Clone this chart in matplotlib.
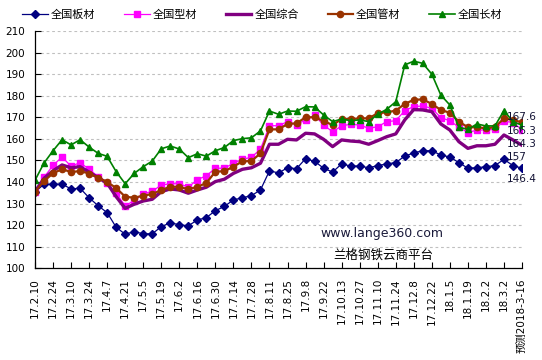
import numpy as np
import matplotlib
matplotlib.use("Agg")
import matplotlib.pyplot as plt

plt.rcParams['font.family'] = ['DejaVu Sans', 'Noto Sans CJK SC']

# 55 weekly points, a label every second week
tick_labels = ['17.2.10', '17.2.24', '17.3.10', '17.3.24', '17.4.7', '17.4.21',
               '17.5.5', '17.5.19', '17.6.2', '17.6.16', '17.6.30', '17.7.14',
               '17.7.28', '17.8.11', '17.8.25', '17.9.8', '17.9.22', '17.10.13',
               '17.10.27', '17.11.10', '17.11.24', '17.12.8', '17.12.22', '18.1.5',
               '18.1.19', '18.2.2', '18.3.2', '预测2018-3-16']

banc = [135.5, 138.9, 139, 139, 136.8, 137.1, 132.7, 129, 125.8, 119,
        115.8, 117, 116, 116, 119.3, 121.1, 120.2, 119.7, 122.4, 123.5,
        126.7, 128.7, 131.7, 132.7, 133.7, 136.3, 145.2, 144.2, 146.6, 146.2,
        150.8, 149.6, 146.4, 144.6, 148.4, 147.4, 147.4, 146.6, 147.6, 148.4,
        149, 152, 153.5, 154.5, 154.5, 152.5, 151.6, 149, 146.4, 146.6,
        147.1, 147.6, 150.5, 147.6, 146.4]
xingc = [135.5, 142.2, 147.7, 151.6, 147.3, 149, 145.9, 142.5, 139.7, 134.8,
         129, 131.4, 134.4, 135.7, 138.6, 139.2, 139.2, 137.6, 141.1, 142.9,
         146.4, 146.4, 148.7, 150.5, 151.5, 155.2, 166.1, 166.1, 168, 166.6,
         168.8, 170.9, 166.4, 163.3, 166, 166.8, 166.4, 164.9, 165.6, 168,
         168.4, 173.1, 175, 175.2, 174.2, 169.8, 168.4, 165.4, 162.9, 164.1,
         164.1, 164.4, 168.3, 167.5, 164.3]
zonghe = [135.5, 141.7, 145.2, 147.9, 146.6, 147.1, 144.6, 142, 139.5, 133.2,
          127.8, 129.7, 131.2, 132, 135.5, 136.8, 136.3, 134.8, 136.3, 137.6,
          140.2, 141.3, 144, 145.9, 146.6, 148.7, 157.5, 157.5, 159.8, 159.5,
          162.6, 162.3, 159.8, 156.4, 159.5, 159, 158.7, 157.5, 159.2, 161,
          162.3, 168.8, 173.6, 173.4, 172.6, 166.9, 164.1, 158.7, 155.6, 156.8,
          156.8, 157.5, 161.8, 159.5, 157]
guanc = [135.5, 140.5, 144, 146, 144.6, 145.1, 143.9, 142, 140, 137.2,
         133.2, 132.7, 133.7, 134.4, 136.3, 137.8, 137.8, 136.6, 137.8, 139.5,
         144.8, 145, 147.1, 149.6, 149.7, 153.3, 164.4, 164.4, 166.9, 167.2,
         170, 170, 168.3, 166.4, 169.2, 169.2, 169.5, 169.5, 171.9, 172.3,
         173.1, 176.2, 178.1, 178.3, 176.2, 173.4, 172.1, 168, 165.4, 165.4,
         164.9, 165.4, 169.5, 168.8, 167.6]
changc = [140.8, 148.8, 154.5, 159.6, 157.2, 159.6, 156.2, 153.3, 151.9, 144.8,
          139.2, 144, 147.1, 149.7, 155.4, 156.7, 155.3, 151.3, 153.1, 152,
          154.5, 156, 159.2, 160.1, 160.5, 163.7, 172.9, 171.4, 172.9, 172.8,
          174.9, 174.8, 171.1, 168, 169.2, 168.4, 168.8, 168, 171.4, 173.7,
          177.2, 194.3, 196, 195, 190, 180.3, 175.7, 165.4, 164.4, 166.9,
          166, 166, 173.1, 168, 166.3]

x = np.arange(len(banc))

fig = plt.figure(figsize=(5.42, 3.6), dpi=100)
ax = fig.add_axes([35 / 542, 1 - 268.3 / 360, 487 / 542, (268.3 - 31) / 360])

series = [
    ('全国板材', banc, '#000080', 'D', 4.2, 0.9),
    ('全国型材', xingc, '#FF00FF', 's', 5, 0.9),
    ('全国综合', zonghe, '#800080', None, 0, 2.4),
    ('全国管材', guanc, '#993300', 'o', 4.5, 1.6),
    ('全国长材', changc, '#008000', '^', 5, 1.2),
]
for name, vals, col, mk, ms, lw in series:
    ax.plot(x, vals, color=col, marker=mk, markersize=ms, linewidth=lw,
            label=name, markeredgecolor=col, markerfacecolor=col)

# value labels on the last (forecast) point
offs = {'全国管材': 5.5, '全国长材': -5.5, '全国型材': -14, '全国综合': -12, '全国板材': -11}
for name, vals, col, mk, ms, lw in series:
    v = vals[-1]
    ax.annotate(f'{v:g}', xy=(x[-1], v), xytext=(-15, offs[name]),
                textcoords='offset pixels', ha='left', va='center',
                fontsize=7.5, color='#111133')

ax.set_xlim(0, len(x) - 1)
ax.set_ylim(100, 210)
ax.set_yticks(np.arange(100, 211, 10))
ax.set_xticks(x[::2])
ax.set_xticklabels(tick_labels, rotation=90, va='top', ha='center')
ax.tick_params(axis='both', direction='in', length=4, width=0.8,
               labelsize=7.5, colors='black')
ax.tick_params(axis='y', pad=7)
ax.tick_params(axis='x', pad=7)
ax.yaxis.grid(True, color='#C0C0C0', linestyle=(0, (2.5, 2.5)), linewidth=0.8)
ax.set_axisbelow(True)
for s in ['top', 'right']:
    ax.spines[s].set_visible(False)
for s in ['left', 'bottom']:
    ax.spines[s].set_linewidth(0.9)
    ax.spines[s].set_color('black')

fig.text(382 / 542, 1 - 234 / 360, 'www.lange360.com', fontsize=9,
         ha='center', va='center', color='#1a1a3a')
fig.text(383 / 542, 1 - 255 / 360, '兰格钢铁云商平台', fontsize=9,
         ha='center', va='center', color='black')

fig.legend(loc='upper left', bbox_to_anchor=(18 / 542, 1 - 5 / 360), ncol=5,
           frameon=False, fontsize=8, handlelength=2.3, handletextpad=0.25,
           columnspacing=2.6, borderaxespad=0)

fig.savefig('out.png', dpi=100)
